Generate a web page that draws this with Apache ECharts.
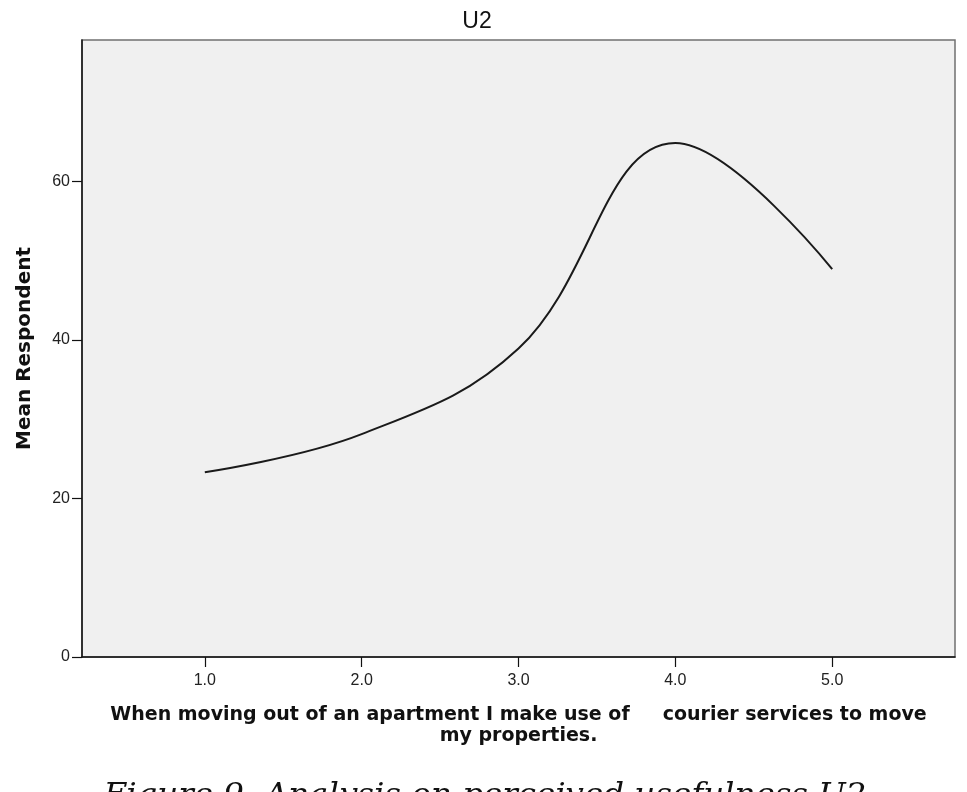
<!DOCTYPE html>
<html>
<head>
<meta charset="utf-8">
<title>U2</title>
<script src="https://cdn.jsdelivr.net/npm/echarts@6/dist/echarts.min.js"></script>
<style>
    html, body {margin: 0; padding: 0; background: #fff;}
    #chart {width: 967px; height: 792px;}
</style>
</head>
<body>
<div id="chart"></div>
<script>
// values
const xValues = [1, 2, 3, 4, 5];
const meanRespondent = [23.3, 28.1, 38.9, 64.8, 48.9];
const xTicks = [1, 2, 3, 4, 5];
const yTicks = [0, 20, 40, 60];

const titleText = 'U2';
const xName = 'When moving out of an apartment I make use of     courier services to move\nmy properties.';
const yName = 'Mean Respondent';
const caption = 'Figure 9. Analysis on perceived usefulness U2';

const points = xValues.map((x, i) => [x, meanRespondent[i]]);

const chart = echarts.init(document.getElementById('chart'), null, {renderer: 'canvas'});

chart.setOption({
    animation: false,
    backgroundColor: '#fff',
    grid: {
        left: 82,
        right: 12,
        top: 40,
        bottom: 135,
        show: true,
        backgroundColor: '#f0f0f0',
        borderColor: '#707070',
        borderWidth: 1.5,
    },
    xAxis: {
        type: 'value',
        min: 0.217,
        max: 5.783,
        name: xName,
        nameLocation: 'middle',
        nameGap: 48,
        nameTextStyle: {
            fontFamily: 'DejaVu Sans',
            fontWeight: 'bold',
            fontSize: 19,
            lineHeight: 21,
            color: '#111',
        },
        axisLine: {show: true, onZero: false, lineStyle: {color: '#111', width: 1.5}},
        axisTick: {show: true, length: 10, customValues: xTicks, lineStyle: {color: '#111', width: 1.2}},
        axisLabel: {
            customValues: xTicks,
            formatter: v => v.toFixed(1),
            margin: 16,
            fontFamily: 'Liberation Sans',
            fontSize: 16,
            color: '#222',
        },
        splitLine: {show: false},
    },
    yAxis: {
        type: 'value',
        min: 0,
        max: 77.8,
        name: yName,
        nameLocation: 'middle',
        nameGap: 47,
        nameTextStyle: {
            fontFamily: 'DejaVu Sans',
            fontWeight: 'bold',
            fontSize: 20,
            color: '#111',
        },
        axisLine: {show: true, lineStyle: {color: '#111', width: 1.5}},
        axisTick: {show: true, length: 10, customValues: yTicks, lineStyle: {color: '#111', width: 1.2}},
        axisLabel: {
            customValues: yTicks,
            margin: 12,
            fontFamily: 'Liberation Sans',
            fontSize: 16,
            color: '#222',
        },
        splitLine: {show: false},
    },
    graphic: [
        {
            type: 'text',
            x: 477,
            y: 10,
            style: {
                text: titleText,
                fontFamily: 'Liberation Sans',
                fontSize: 23,
                fill: '#111',
                align: 'center',
                verticalAlign: 'top',
            },
        },
        {
            type: 'text',
            x: 485,
            y: 780,
            style: {
                text: caption,
                fontFamily: 'DejaVu Serif',
                fontStyle: 'italic',
                fontSize: 32.5,
                fill: '#111',
                align: 'center',
                verticalAlign: 'top',
            },
        },
    ],
    series: [
        {
            type: 'line',
            data: points,
            smooth: 0.4,
            symbol: 'none',
            lineStyle: {color: '#1a1a1a', width: 2},
        },
    ],
});
</script>
</body>
</html>
